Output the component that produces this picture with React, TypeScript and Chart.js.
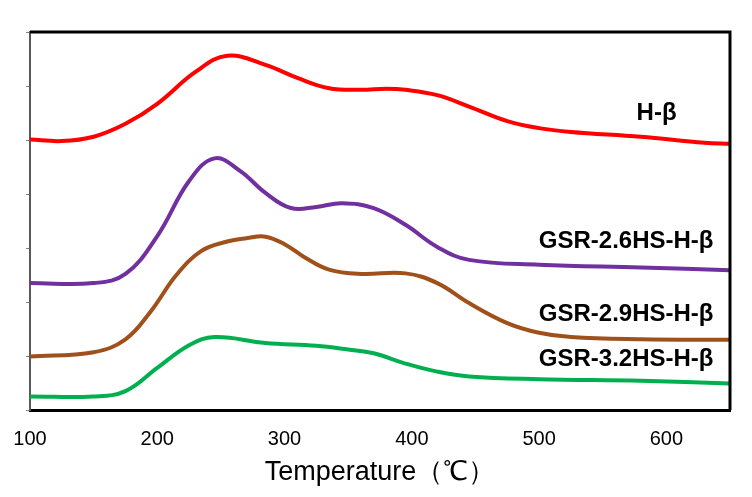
import React, { useRef, useEffect } from 'react';
import { Chart, registerables } from 'chart.js';

Chart.register(...registerables);

// Temperatures (°C) and signal values (arbitrary units, offset per sample)
const hBetaTemps = [100, 125, 150, 175, 200, 230, 255, 285, 310, 335, 360, 380, 395, 420, 445, 475, 500, 525, 580, 630, 650];
const hBetaValues = [5.01, 4.98, 5.06, 5.3, 5.67, 6.26, 6.56, 6.39, 6.15, 5.96, 5.93, 5.95, 5.93, 5.83, 5.62, 5.35, 5.22, 5.15, 5.06, 4.95, 4.93];

const gsr26Temps = [100, 150, 175, 200, 225, 245, 265, 285, 305, 325, 345, 370, 395, 420, 445, 500, 580, 650];
const gsr26Values = [2.35, 2.35, 2.52, 3.22, 4.24, 4.66, 4.43, 4.02, 3.74, 3.76, 3.83, 3.74, 3.43, 3.02, 2.78, 2.69, 2.64, 2.59];

const gsr29Temps = [100, 150, 175, 195, 215, 235, 255, 270, 285, 300, 315, 335, 360, 395, 420, 445, 475, 500, 525, 580, 650];
const gsr29Values = [0.99, 1.07, 1.31, 1.83, 2.5, 2.95, 3.12, 3.18, 3.21, 3.07, 2.84, 2.6, 2.52, 2.53, 2.35, 1.98, 1.61, 1.43, 1.35, 1.31, 1.3];

const gsr32Temps = [100, 150, 175, 200, 225, 245, 285, 325, 350, 370, 395, 420, 445, 500, 580, 650];
const gsr32Values = [0.25, 0.25, 0.35, 0.78, 1.2, 1.35, 1.24, 1.19, 1.12, 1.05, 0.86, 0.71, 0.62, 0.57, 0.54, 0.49];

const seriesNames = ['H-β', 'GSR-2.6HS-H-β', 'GSR-2.9HS-H-β', 'GSR-3.2HS-H-β'];
const seriesColors = ['#ff0000', '#7030a0', '#a0501a', '#00b050'];

// where each series name sits (data coords, right-aligned)
const nameAnchorX = [608, 637, 637, 637];
const nameAnchorY = [5.5, 3.12, 1.78, 0.93];

const FONT = "Arial, 'Liberation Sans', sans-serif";

const frameAndNames = {
  id: 'frameAndNames',
  afterDraw(chart: Chart) {
    const { ctx, chartArea, scales } = chart;
    ctx.save();
    // top and right border
    ctx.strokeStyle = '#000';
    ctx.lineWidth = 3;
    ctx.beginPath();
    ctx.moveTo(chartArea.left, chartArea.top);
    ctx.lineTo(chartArea.right, chartArea.top);
    ctx.lineTo(chartArea.right, chartArea.bottom);
    ctx.stroke();
    // series names
    ctx.fillStyle = '#000';
    ctx.font = `bold 24px ${FONT}`;
    ctx.textAlign = 'right';
    ctx.textBaseline = 'middle';
    seriesNames.forEach((name, i) => {
      ctx.fillText(name, scales.x.getPixelForValue(nameAnchorX[i]), scales.y.getPixelForValue(nameAnchorY[i]));
    });
    ctx.restore();
  },
};

const App: React.FC = () => {
  const chartRef = useRef<HTMLCanvasElement>(null);
  const chartInstance = useRef<Chart | null>(null);

  useEffect(() => {
    document.body.style.margin = '0';
    if (!chartRef.current) return;
    if (chartInstance.current) chartInstance.current.destroy();

    const temps = [hBetaTemps, gsr26Temps, gsr29Temps, gsr32Temps];
    const values = [hBetaValues, gsr26Values, gsr29Values, gsr32Values];

    chartInstance.current = new Chart(chartRef.current, {
      type: 'line',
      data: {
        datasets: seriesNames.map((name, i) => ({
          label: name,
          data: temps[i].map((t, j) => ({ x: t, y: values[i][j] })),
          borderColor: seriesColors[i],
          borderWidth: 4,
          pointRadius: 0,
          tension: 0.4,
          fill: false,
        })),
      },
      options: {
        animation: false,
        responsive: true,
        maintainAspectRatio: false,
        layout: { padding: { top: 32, right: 22, left: 0, bottom: 0 } },
        plugins: {
          legend: { display: false },
          tooltip: { enabled: false },
        },
        scales: {
          x: {
            type: 'linear',
            min: 100,
            max: 650,
            afterBuildTicks: (scale) => {
              scale.ticks = scale.ticks.filter((t) => t.value % 100 === 0);
            },
            afterFit: (scale) => {
              scale.height = 87;
            },
            ticks: {
              stepSize: 100,
              color: '#000',
              padding: 9,
              maxRotation: 0,
              font: { family: FONT, size: 20 },
            },
            grid: { display: false },
            border: { display: true, color: '#000', width: 3 },
            title: {
              display: true,
              text: 'Temperature（℃）',
              color: '#000',
              font: { family: FONT, size: 27 },
              padding: { top: 0, bottom: 8 },
            },
          },
          y: {
            min: 0,
            max: 7,
            afterFit: (scale) => {
              scale.width = 30;
            },
            ticks: { stepSize: 1, display: false },
            grid: {
              display: true,
              drawOnChartArea: false,
              drawTicks: true,
              tickLength: 4,
              color: '#808080',
            },
            border: { display: true, color: '#595959', width: 2 },
          },
        },
      },
      plugins: [frameAndNames],
    });

    return () => {
      if (chartInstance.current) {
        chartInstance.current.destroy();
        chartInstance.current = null;
      }
    };
  }, []);

  return (
    <div style={{ position: 'relative', width: 752, height: 497, background: '#fff' }}>
      <canvas ref={chartRef} />
    </div>
  );
};

export default App;
